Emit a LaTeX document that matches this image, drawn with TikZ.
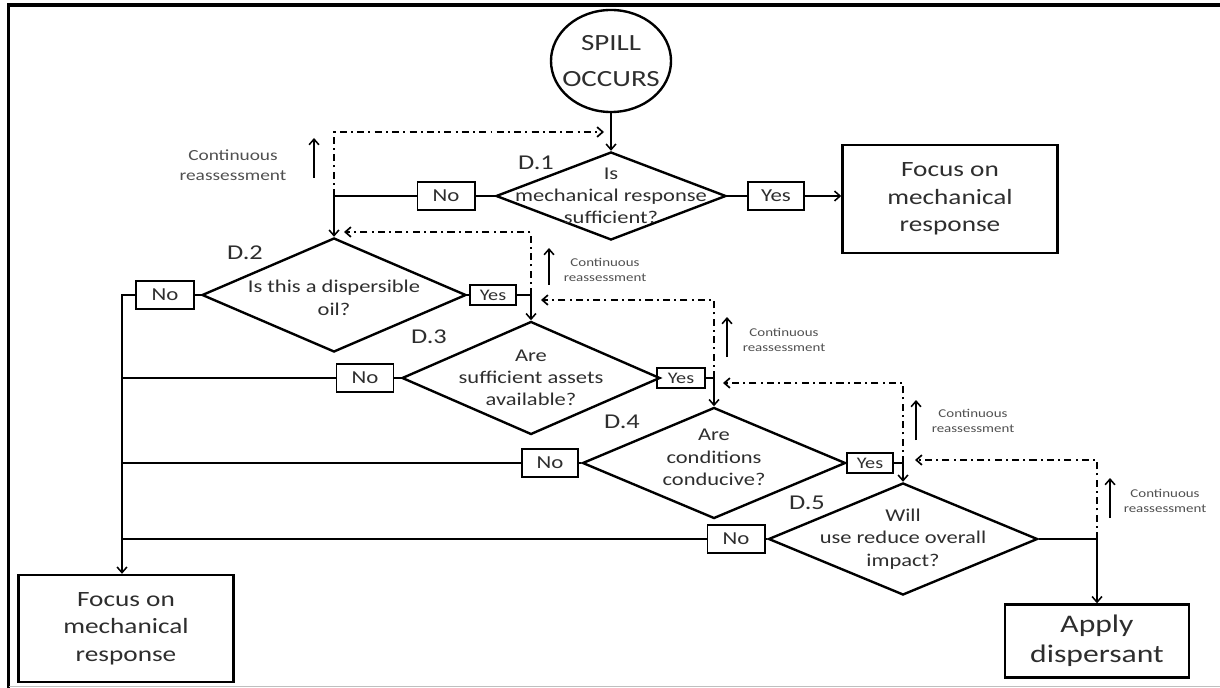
\documentclass[tikz,border=0pt]{standalone}
\usepackage{fontspec}
\setmainfont{Carlito}[FakeStretch=1.25]
\usetikzlibrary{shapes.geometric,arrows.meta}
\definecolor{txt}{HTML}{2E2E2E}
\definecolor{notegray}{HTML}{505050}

\begin{document}
\begin{tikzpicture}[x=0.025cm, y=-0.025cm,
    >={Straight Barb[length=4pt,width=7pt]},
    decision/.style={draw, diamond, line width=1.7pt, inner sep=0pt},
    qtext/.style={align=center, text=txt, font=\fontsize{12.8}{15.8}\selectfont},
    answer/.style={draw, line width=1.4pt, inner sep=0pt, text=txt, font=\fontsize{13}{15}\selectfont},
    outcome/.style={draw, line width=1.7pt, align=center, text=txt},
    link/.style={line width=1.1pt},
    loopline/.style={line width=1.2pt, dash pattern=on 5pt off 3pt on 1.4pt off 3pt},
    note/.style={align=center, text=notegray, font=\fontsize{8.5}{11}\selectfont},
    tag/.style={text=txt, font=\fontsize{15}{18}\selectfont}
]
    \useasboundingbox (0,0) rectangle (1220,688);

    % frame
    \draw[line width=2.8pt] (8.5,688) -- (8.5,5) -- (1220,5);
    \draw[gray!50, line width=0.6pt] (8.5,686) -- (1220,686);

    % Spill
    \node[draw, ellipse, line width=1.7pt, minimum width=3cm, minimum height=2.55cm] (spill) at (611,61) {};
    \node[align=center, text=txt, font=\fontsize{16.5}{26}\selectfont] (spilltext) at (spill) {SPILL\\OCCURS};

    % Decision D.1
    \node[decision, minimum width=5.75cm, minimum height=2.2cm] (d1) at (611,196) {};
    \node[qtext] (q1) at (d1) {Is\\mechanical response\\sufficient?};
    \node[tag] (t1) at (536,163) {D.1};
    \node[answer, minimum width=1.425cm, minimum height=0.7cm] (n1) at (446,196) {No};
    \node[answer, minimum width=1.4cm, minimum height=0.7cm] (y1) at (776,196) {Yes};
    \node[outcome, minimum width=5.375cm, minimum height=2.7cm, font=\fontsize{15.5}{19.5}\selectfont] (f1) at (950,199) {Focus on\\mechanical\\response};

    % Decision D.2
    \node[decision, minimum width=6.6cm, minimum height=2.85cm] (d2) at (334,295) {};
    \node[qtext, yshift=-2pt] (q2) at (d2) {Is this a dispersible\\oil?};
    \node[tag] (t2) at (245,253) {D.2};
    \node[answer, minimum width=1.45cm, minimum height=0.7cm] (n2) at (165,295) {No};
    \node[answer, minimum width=1.15cm, minimum height=0.5cm, font=\fontsize{11.5}{13}\selectfont] (y2) at (493,295) {Yes};

    % Decision D.3
    \node[decision, minimum width=6.45cm, minimum height=2.825cm] (d3) at (531,378) {};
    \node[qtext] (q3) at (d3) {Are\\sufficient assets\\available?};
    \node[tag] (t3) at (429,337) {D.3};
    \node[answer, minimum width=1.425cm, minimum height=0.7cm] (n3) at (365,378) {No};
    \node[answer, minimum width=1.2cm, minimum height=0.5cm, font=\fontsize{11.5}{13}\selectfont] (y3) at (681,378) {Yes};

    % Decision D.4
    \node[decision, minimum width=6.575cm, minimum height=2.775cm] (d4) at (714,463) {};
    \node[qtext, yshift=4pt] (q4) at (d4) {Are\\conditions\\conducive?};
    \node[tag] (t4) at (622,422) {D.4};
    \node[answer, minimum width=1.4cm, minimum height=0.7cm] (n4) at (550,463) {No};
    \node[answer, minimum width=1.15cm, minimum height=0.5cm, font=\fontsize{11.5}{13}\selectfont] (y4) at (870,463) {Yes};

    % Decision D.5
    \node[decision, minimum width=6.725cm, minimum height=2.8cm] (d5) at (903,539) {};
    \node[qtext] (q5) at (d5) {Will\\use reduce overall\\impact?};
    \node[tag] (t5) at (807,503) {D.5};
    \node[answer, minimum width=1.425cm, minimum height=0.72cm] (n5) at (736,539) {No};

    % Outcomes at the bottom
    \node[outcome, minimum width=5.375cm, minimum height=2.675cm, font=\fontsize{15.5}{19.5}\selectfont] (f2) at (126,628.5) {Focus on\\mechanical\\response};
    \node[outcome, minimum width=4.6cm, minimum height=1.825cm, font=\fontsize{18}{21}\selectfont] (apply) at (1097,641) {Apply\\dispersant};

    % Main flow
    \draw[link,->] (spill.south) -- (d1.north);
    \draw[link] (d1.west) -- (n1.east);
    \draw[link] (d1.east) -- (y1.west);
    \draw[link,->] (y1.east) -- (y1.east -| f1.west);
    \coordinate (j1) at (d2.north |- n1.west);
    \draw[link,->] (n1.west) -- (j1) -- (d2.north);

    \coordinate (spine) at (122,295);
    \draw[link] (d2.west) -- (n2.east);
    \draw[link,->] (n2.west) -- (spine) -- (spine |- f2.north);
    \draw[link] (d3.west) -- (n3.east);
    \draw[link] (n3.west) -- (spine |- n3.west);
    \draw[link] (d4.west) -- (n4.east);
    \draw[link] (n4.west) -- (spine |- n4.west);
    \draw[link] (d5.west) -- (n5.east);
    \draw[link] (n5.west) -- (spine |- n5.west);

    \coordinate (j2) at (d3.north |- y2.east);
    \draw[link] (d2.east) -- (y2.west);
    \draw[link,->] (y2.east) -- (j2) -- (d3.north);
    \coordinate (j3) at (d4.north |- y3.east);
    \draw[link] (d3.east) -- (y3.west);
    \draw[link,->] (y3.east) -- (j3) -- (d4.north);
    \coordinate (j4) at (d5.north |- y4.east);
    \draw[link] (d4.east) -- (y4.west);
    \draw[link,->] (y4.east) -- (j4) -- (d5.north);
    \coordinate (j5) at (apply.north |- d5.east);
    \draw[link,->] (d5.east) -- (j5) -- (apply.north);

    % Continuous reassessment loops
    \coordinate (r1) at (334,132);
    \coordinate (e1) at (604,132);
    \draw[loopline,->] (j1) -- (r1) -- (e1);
    \coordinate (r2) at (531,232);
    \coordinate (e2) at (344,232);
    \draw[loopline,->] (j2) -- (r2) -- (e2);
    \coordinate (r3) at (714,300);
    \coordinate (e3) at (541,300);
    \draw[loopline,->] (j3) -- (r3) -- (e3);
    \coordinate (r4) at (903,383);
    \coordinate (e4) at (723,383);
    \draw[loopline,->] (j4) -- (r4) -- (e4);
    \coordinate (r5) at (1097,460);
    \coordinate (e5) at (915,460);
    \draw[loopline,->] (j5) -- (r5) -- (e5);

    % Notes
    \node[note, font=\fontsize{11}{14}\selectfont] (c1) at (233,165) {Continuous\\reassessment};
    \draw[link,->] (314,178) -- (314,138);
    \node[note] (c2) at (605,270) {Continuous\\reassessment};
    \draw[link,->] (549,285) -- (549,248);
    \node[note] (c3) at (784,340) {Continuous\\reassessment};
    \draw[link,->] (727,357) -- (727,317);
    \node[note] (c4) at (973,421) {Continuous\\reassessment};
    \draw[link,->] (916,440) -- (916,400);
    \node[note] (c5) at (1165,501) {Continuous\\reassessment};
    \draw[link,->] (1110,518) -- (1110,478);
\end{tikzpicture}
\end{document}
